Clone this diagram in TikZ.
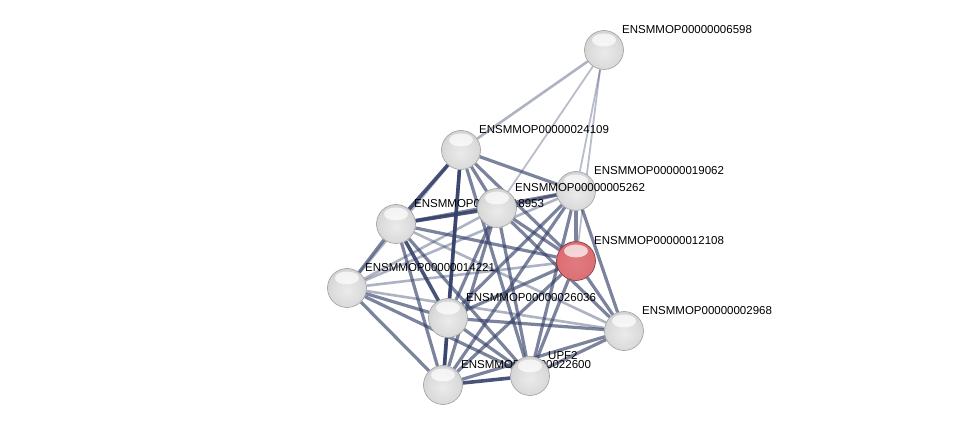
\documentclass[tikz,border=0pt]{standalone}
\usepackage{fontspec}
\setmainfont{Liberation Sans}
\usepackage{xcolor}
\usepackage{tikz}
\usetikzlibrary{backgrounds, positioning}

\definecolor{edgeblue}{RGB}{52,64,105}
\definecolor{queryred}{RGB}{218,100,106}
\pgfdeclareradialshading{greyball}{\pgfpoint{0bp}{-4bp}}{
  color(0bp)=(white!92!black); color(20bp)=(white!86!black); color(36bp)=(white!78!black);
  color(46bp)=(white!64!black); color(50bp)=(white!48!black)}
\pgfdeclareradialshading{redball}{\pgfpoint{0bp}{-4bp}}{
  color(0bp)=(queryred!85!white); color(20bp)=(queryred!92!white); color(36bp)=(queryred);
  color(46bp)=(queryred!85!black); color(50bp)=(queryred!65!black)}

\begin{document}
\begin{tikzpicture}[
    x=1pt, y=-1pt,
    prot/.style={circle, minimum size=39pt, inner sep=0pt, draw=gray!75, line width=0.6pt, shading=greyball,
      path picture={\fill[white, opacity=0.7] ([yshift=10pt]path picture bounding box.center) ellipse (12pt and 6.5pt);}},
    query/.style={prot, draw=queryred!55!black, shading=redball},
    lbl/.style={font=\fontsize{11.5}{12}\selectfont, inner sep=1pt},
    strong/.style={edgeblue, line width=3.6pt, opacity=0.9},
    medium/.style={edgeblue, line width=3.2pt, opacity=0.65},
    weak/.style={edgeblue, line width=2.6pt, opacity=0.4},
    faint/.style={edgeblue, line width=1.8pt, opacity=0.35}]
  \useasboundingbox (0,0) rectangle (975,430);
  % proteins
  \node[prot, label={[lbl, xshift=3pt, yshift=1pt]north east:ENSMMOP00000006598}] (K) at (604,50) {};
  \node[prot, label={[lbl, xshift=3pt, yshift=1pt]north east:ENSMMOP00000024109}] (A) at (461,150) {};
  \node[prot, label={[lbl, xshift=3pt, yshift=1pt]north east:ENSMMOP00000019062}] (D) at (576,191) {};
  \node[prot, label={[lbl, xshift=3pt, yshift=1pt]north east:ENSMMOP00000018953}] (B) at (396,224) {};
  \node[prot, label={[lbl, xshift=3pt, yshift=1pt]north east:ENSMMOP00000005262}] (C) at (497,208) {};
  \node[query, label={[lbl, xshift=3pt, yshift=1pt]north east:ENSMMOP00000012108}] (E) at (576,261) {};
  \node[prot, label={[lbl, xshift=3pt, yshift=1pt]north east:ENSMMOP00000014221}] (F) at (347,288) {};
  \node[prot, label={[lbl, xshift=3pt, yshift=1pt]north east:ENSMMOP00000026036}] (G) at (448,318) {};
  \node[prot, label={[lbl, xshift=3pt, yshift=1pt]north east:ENSMMOP00000002968}] (H) at (624,331) {};
  \node[prot, label={[lbl, xshift=3pt, yshift=1pt]north east:ENSMMOP00000022600}] (I) at (443,385) {};
  \node[prot, label={[lbl, xshift=3pt, yshift=1pt]north east:UPF2}] (J) at (530,376) {};
  % interactions
  \begin{scope}[on background layer]
    \draw[weak] (K) -- (A);
    \draw[faint] (K) -- (C);
    \draw[faint] (K) -- (D);
    \draw[faint] ([xshift=-4pt]K.south) -- (E);
    \foreach \u/\v in {A/B, B/C, A/G, G/I, I/J, B/G}
      \draw[strong] (\u) -- (\v);
    \foreach \u/\v in {A/C, A/D, A/E, A/I, A/J, B/D, B/E, B/F, B/I, B/J, C/D, C/E,
                       C/G, C/I, C/J, C/H, D/E, D/G, D/I, D/J, D/H, E/G, E/I, E/J,
                       E/H, F/G, F/I, G/J, G/H, I/H, J/H, F/J}
      \draw[medium] (\u) -- (\v);
    \foreach \u/\v in {C/F, D/F, E/F, B/H, F/H, A/F}
      \draw[weak] (\u) -- (\v);
  \end{scope}
\end{tikzpicture}
\end{document}
